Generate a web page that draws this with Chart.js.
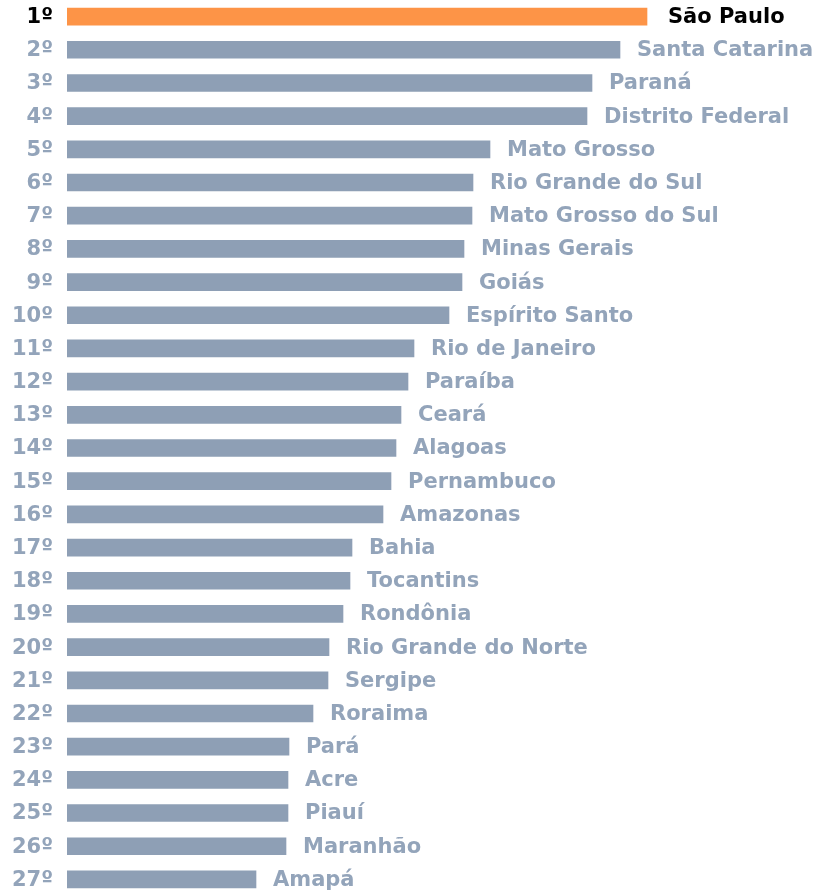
<!DOCTYPE html>
<html>
<head>
<meta charset="utf-8">
<script src="https://cdn.jsdelivr.net/npm/chart.js@4/dist/chart.umd.min.js"></script>
<style>
    body { margin: 0; background: #fff; }
    #wrap { width: 819px; height: 896px; position: relative; }
</style>
</head>
<body>
<div id="wrap"><canvas id="rankChart"></canvas></div>
<script>
// ranking by state
const states = ['São Paulo', 'Santa Catarina', 'Paraná', 'Distrito Federal', 'Mato Grosso',
    'Rio Grande do Sul', 'Mato Grosso do Sul', 'Minas Gerais', 'Goiás', 'Espírito Santo',
    'Rio de Janeiro', 'Paraíba', 'Ceará', 'Alagoas', 'Pernambuco', 'Amazonas', 'Bahia',
    'Tocantins', 'Rondônia', 'Rio Grande do Norte', 'Sergipe', 'Roraima', 'Pará', 'Acre',
    'Piauí', 'Maranhão', 'Amapá'];
const ranks = ['1º', '2º', '3º', '4º', '5º', '6º', '7º', '8º', '9º', '10º', '11º', '12º', '13º',
    '14º', '15º', '16º', '17º', '18º', '19º', '20º', '21º', '22º', '23º', '24º', '25º', '26º', '27º'];
const values = [580, 553, 525, 520, 423, 406, 405, 397, 395, 382, 347, 341, 334, 329, 324, 316,
    285, 283, 276, 262, 261, 246, 222, 221, 221, 219, 189];

const orange = '#fd9447';
const barGray = '#8e9fb5';
const textGray = '#93a4ba';
const fontFamily = '"DejaVu Sans", Verdana, sans-serif';

// rank on the left, state name after the end of each bar
const rowLabels = {
    id: 'rowLabels',
    afterDatasetsDraw(chart) {
        const ctx = chart.ctx;
        const meta = chart.getDatasetMeta(0);
        const left = chart.chartArea.left;
        ctx.save();
        ctx.font = 'bold 21px ' + fontFamily;
        ctx.textBaseline = 'middle';
        meta.data.forEach((bar, i) => {
            ctx.fillStyle = i === 0 ? '#000' : textGray;
            ctx.textAlign = 'right';
            ctx.fillText(ranks[i], left - 14, bar.y + 1);
            ctx.textAlign = 'left';
            const gap = i === 0 ? 21 : 17;
            ctx.fillText(states[i], bar.x + gap, bar.y + 1);
        });
        ctx.restore();
    }
};

const ctx = document.getElementById('rankChart').getContext('2d');
new Chart(ctx, {
    type: 'bar',
    data: {
        labels: ranks,
        datasets: [{
            data: values,
            backgroundColor: values.map((v, i) => i === 0 ? orange : barGray),
            borderWidth: 0,
            barThickness: 17
        }]
    },
    options: {
        indexAxis: 'y',
        responsive: true,
        maintainAspectRatio: false,
        animation: false,
        layout: { padding: { top: 0, right: 2, bottom: 0, left: 67 } },
        plugins: {
            legend: { display: false },
            tooltip: { enabled: false }
        },
        scales: {
            x: { display: false, min: 0, max: 750 },
            y: { display: false }
        }
    },
    plugins: [rowLabels]
});
</script>
</body>
</html>
